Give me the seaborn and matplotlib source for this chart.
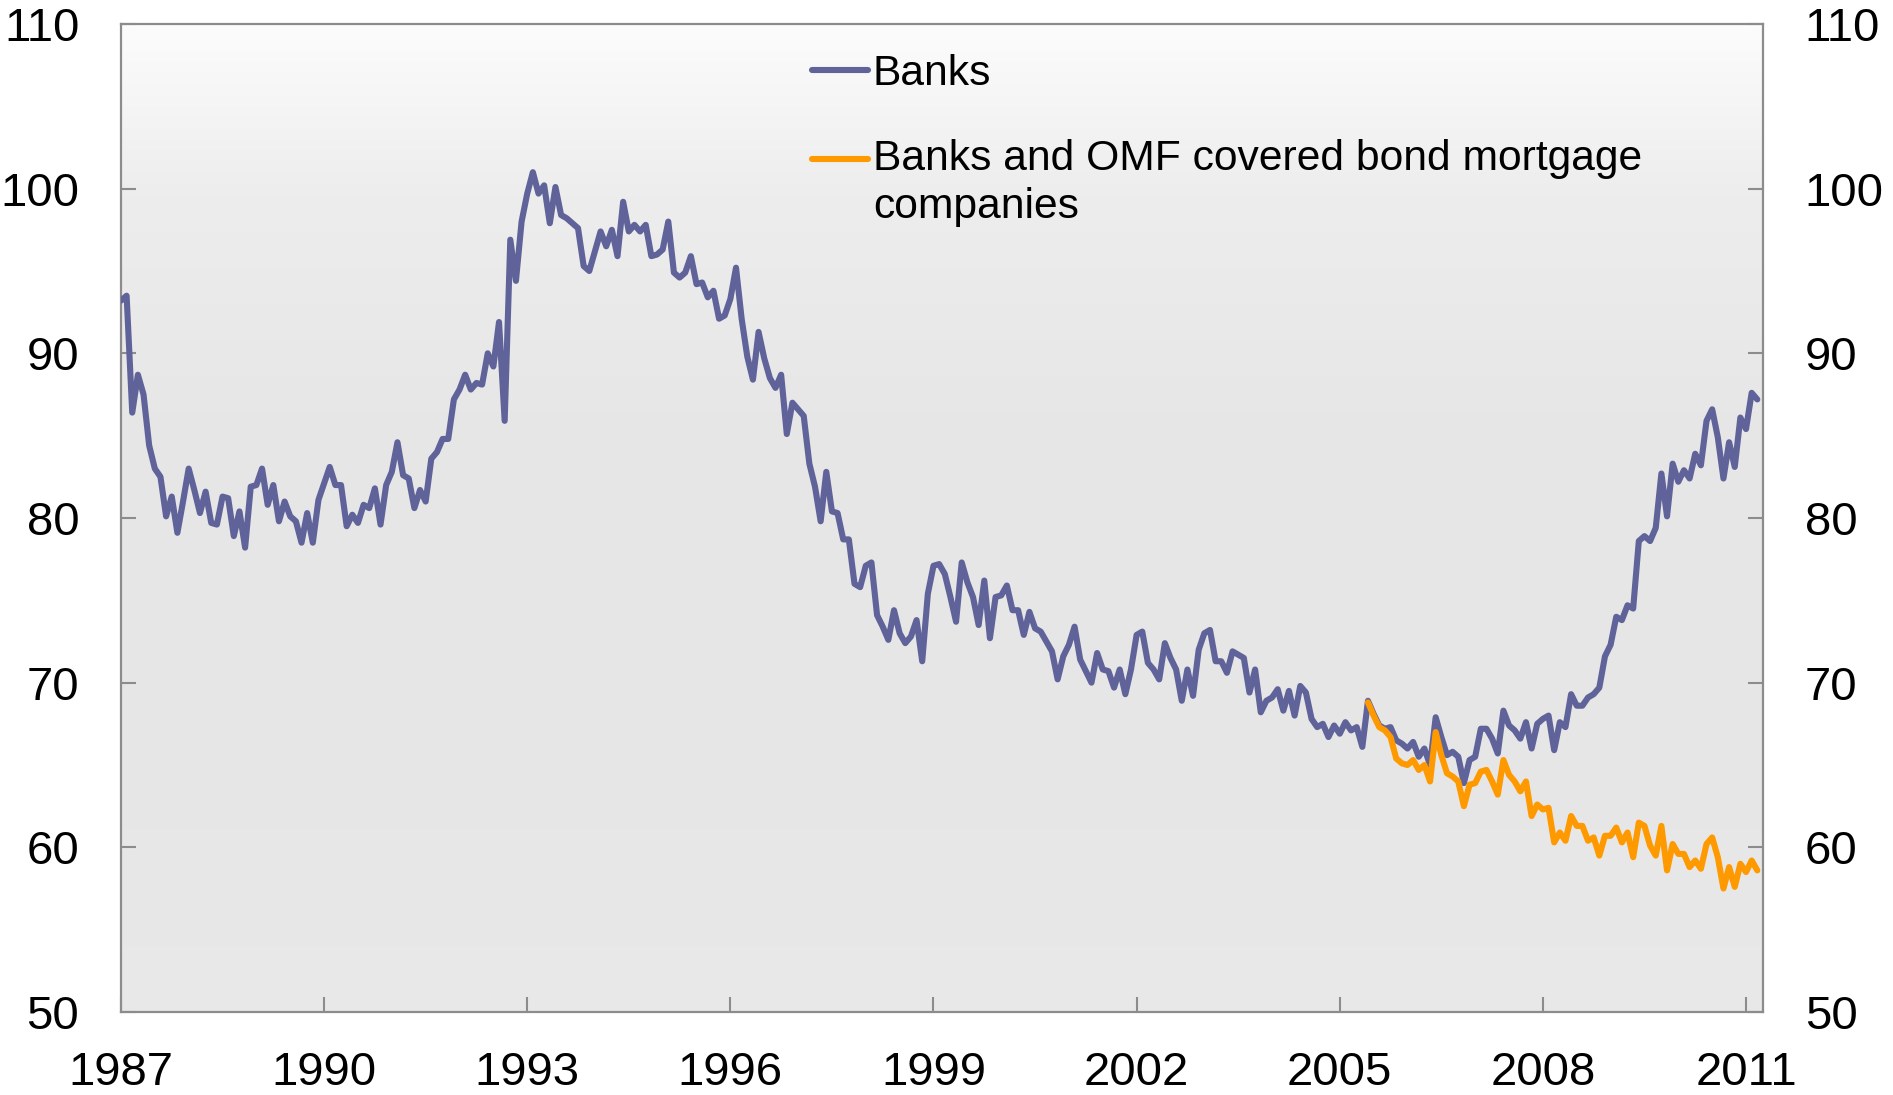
import numpy as np
import pandas as pd
import matplotlib
matplotlib.use("Agg")
import matplotlib.pyplot as plt
import seaborn as sns
from matplotlib.legend_handler import HandlerLine2D

# ---------------- data (monthly, Jan 1987 - Mar 2011) ----------------
start_year = 1987
banks = [
    93.2, 93.5, 86.4, 88.7, 87.5, 84.4, 83.0, 82.5, 80.1, 81.3, 79.1,
    81.0, 83.0, 81.7, 80.3, 81.6, 79.7, 79.6, 81.3, 81.2, 78.9,
    80.4, 78.2, 81.9, 82.0, 83.0, 80.8, 82.0, 79.8, 81.0, 80.1,
    79.8, 78.5, 80.3, 78.5, 81.1, 82.1, 83.1, 82.0, 82.0, 79.5,
    80.2, 79.7, 80.8, 80.6, 81.8, 79.6, 82.0, 82.8, 84.6, 82.6,
    82.4, 80.6, 81.7, 81.0, 83.6, 84.0, 84.8, 84.8, 87.2, 87.8,
    88.7, 87.8, 88.2, 88.1, 90.0, 89.2, 91.9, 85.9, 96.9, 94.4,
    98.0, 99.7, 101.0, 99.7, 100.2, 97.9, 100.1, 98.4, 98.2, 97.9,
    97.6, 95.3, 95.0, 96.2, 97.4, 96.5, 97.5, 95.9, 99.2, 97.4,
    97.8, 97.4, 97.8, 95.9, 96.0, 96.3, 98.0, 94.9, 94.6, 94.9,
    95.9, 94.2, 94.3, 93.4, 93.8, 92.1, 92.3, 93.3, 95.2, 92.1,
    89.8, 88.4, 91.3, 89.7, 88.5, 87.9, 88.7, 85.1, 87.0, 86.6,
    86.2, 83.3, 81.9, 79.8, 82.8, 80.4, 80.3, 78.7, 78.7, 76.0,
    75.8, 77.1, 77.3, 74.1, 73.4, 72.6, 74.4, 73.0, 72.4, 72.8,
    73.8, 71.3, 75.4, 77.1, 77.2, 76.6, 75.2, 73.7, 77.3, 76.1,
    75.2, 73.5, 76.2, 72.7, 75.2, 75.3, 75.9, 74.4, 74.4, 72.9,
    74.3, 73.3, 73.1, 72.5, 71.9, 70.2, 71.6, 72.3, 73.4, 71.4,
    70.7, 70.0, 71.8, 70.8, 70.7, 69.7, 70.8, 69.3, 70.8, 72.9,
    73.1, 71.2, 70.8, 70.2, 72.4, 71.5, 70.8, 68.9, 70.8, 69.2,
    72.0, 73.0, 73.2, 71.3, 71.3, 70.6, 71.9, 71.7, 71.5, 69.4,
    70.8, 68.2, 68.9, 69.1, 69.6, 68.3, 69.5, 68.0, 69.8, 69.4,
    67.8, 67.3, 67.5, 66.7, 67.4, 66.9, 67.6, 67.1, 67.3, 66.1,
    68.9, 68.1, 67.4, 67.2, 67.3, 66.5, 66.3, 66.0, 66.4, 65.5,
    66.0, 65.0, 67.9, 66.7, 65.6, 65.8, 65.5, 63.9, 65.3, 65.5,
    67.2, 67.2, 66.6, 65.7, 68.3, 67.4, 67.1, 66.6, 67.6, 66.0,
    67.5, 67.8, 68.0, 65.9, 67.6, 67.3, 69.3, 68.6, 68.6, 69.1,
    69.3, 69.7, 71.6, 72.3, 74.0, 73.8, 74.7, 74.5, 78.6, 78.9,
    78.6, 79.4, 82.7, 80.1, 83.3, 82.2, 82.9, 82.4, 83.9, 83.2,
    85.9, 86.6, 84.9, 82.4, 84.6, 83.1, 86.1, 85.4, 87.6, 87.2,
]
omf_start_month = 221  # June 2005
banks_omf = [
    68.8, 68.0, 67.3, 67.1, 66.7, 65.4, 65.1, 65.0, 65.3, 64.7,
    65.0, 64.0, 67.0, 65.6, 64.5, 64.3, 64.0, 62.5, 63.8, 63.9,
    64.6, 64.7, 64.0, 63.2, 65.3, 64.4, 64.0, 63.4, 64.0, 61.9,
    62.6, 62.3, 62.4, 60.3, 60.9, 60.4, 61.9, 61.3, 61.3, 60.4,
    60.6, 59.5, 60.7, 60.7, 61.2, 60.3, 60.9, 59.4, 61.5, 61.3,
    60.1, 59.5, 61.3, 58.6, 60.2, 59.6, 59.6, 58.8, 59.2, 58.7,
    60.2, 60.6, 59.4, 57.5, 58.8, 57.6, 59.0, 58.5, 59.2, 58.6,
]
label_banks = "Banks"
label_omf = "Banks and OMF covered bond mortgage\ncompanies"
x_ticks = [1987, 1990, 1993, 1996, 1999, 2002, 2005, 2008, 2011]
y_ticks = [50, 60, 70, 80, 90, 100, 110]

months_banks = start_year + np.arange(len(banks)) / 12.0
months_omf = start_year + (omf_start_month + np.arange(len(banks_omf))) / 12.0
df_banks = pd.DataFrame({"date": months_banks, "value": banks})
df_omf = pd.DataFrame({"date": months_omf, "value": banks_omf})

# ---------------- style ----------------
sns.set_style("white")
plt.rcParams["font.family"] = ["Liberation Sans", "DejaVu Sans"]
plt.rcParams["text.color"] = "black"
plt.rcParams["xtick.color"] = "black"
plt.rcParams["ytick.color"] = "black"

PURPLE = "#606399"
ORANGE = "#FF9900"
GRID_GRAY = "#8C8C8C"
FS_TICK = 34
FS_LEG = 30.7
LW = 4.4

fig = plt.figure(figsize=(18.93, 10.95), dpi=100)
ax = fig.add_axes([0.0639, 0.0758, 0.8674, 0.9023])

# gradient background
fpos = np.array([0.0, 0.3, 0.6, 0.83, 1.0])
fval = np.array([0.912, 0.902, 0.905, 0.93, 0.99])
ys = np.linspace(0, 1, 400)
vals = np.interp(ys, fpos, fval)
grad = np.repeat(vals[::-1, None], 2, axis=1)
img = np.dstack([grad, grad, grad])
ax.imshow(img, extent=[0, 1, 0, 1], transform=ax.transAxes,
          aspect="auto", zorder=0, interpolation="bilinear")

sns.lineplot(data=df_banks, x="date", y="value", ax=ax, color=PURPLE,
             linewidth=LW, label=label_banks, zorder=3)
sns.lineplot(data=df_omf, x="date", y="value", ax=ax, color=ORANGE,
             linewidth=LW, label=label_omf, zorder=4)

ax.set_xlim(1987, 2011.25)
ax.set_ylim(50, 110)
ax.set_xticks(x_ticks)
ax.set_xticklabels([str(t) for t in x_ticks])
ax.set_yticks(y_ticks)
ax.set_yticklabels([str(t) for t in y_ticks])
ax.set_xlabel("")
ax.set_ylabel("")

for s in ax.spines.values():
    s.set_visible(True)
    s.set_color(GRID_GRAY)
    s.set_linewidth(1.6)

ax.tick_params(axis="y", which="both", direction="in", left=True, right=True,
               labelleft=True, labelright=True, length=11, width=1.5,
               color=GRID_GRAY, labelcolor="black", labelsize=FS_TICK, pad=30)
ax.tick_params(axis="x", which="both", direction="in", bottom=True, top=False,
               length=11, width=1.5, color=GRID_GRAY, labelcolor="black",
               labelsize=FS_TICK, pad=28)


class TopAlignedLine(HandlerLine2D):
    def __init__(self, shift=0.0, **kw):
        super().__init__(**kw)
        self.shift = shift

    def create_artists(self, legend, orig_handle, xdescent, ydescent,
                       width, height, fontsize, trans):
        arts = super().create_artists(legend, orig_handle, xdescent, ydescent,
                                      width, height, fontsize, trans)
        for a in arts:
            a.set_ydata(np.asarray(a.get_ydata()) + self.shift)
        return arts


handles, labels = ax.get_legend_handles_labels()
hmap = {handles[1]: TopAlignedLine(shift=17.8)}
leg = ax.legend(handles, labels, loc="upper left", bbox_to_anchor=(0.408, 0.991),
                frameon=False, fontsize=FS_LEG, handlelength=1.3,
                handletextpad=0.12, labelspacing=1.04, borderpad=0.0,
                handler_map=hmap)
for t in leg.get_texts():
    t.set_linespacing(1.27)
    t.set_color("black")
for lh in leg.get_lines():
    lh.set_linewidth(LW)

fig.savefig("out.png", dpi=100)
